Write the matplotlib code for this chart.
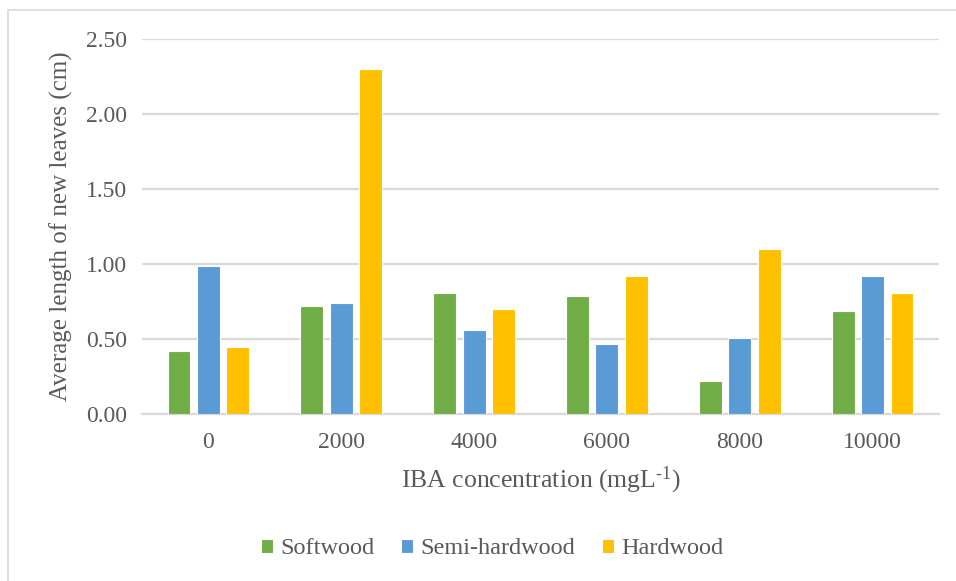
import matplotlib
matplotlib.use("Agg")
import matplotlib.pyplot as plt
import numpy as np
from matplotlib.patches import Rectangle

# Average length of new leaves (cm) by IBA concentration and cutting type
concentrations = ["0", "2000", "4000", "6000", "8000", "10000"]
series_names = ["Softwood", "Semi-hardwood", "Hardwood"]
softwood = [0.42, 0.72, 0.81, 0.79, 0.22, 0.69]
semi_hardwood = [0.99, 0.74, 0.56, 0.47, 0.51, 0.92]
hardwood = [0.45, 2.30, 0.70, 0.92, 1.10, 0.81]
y_ticks = [0.0, 0.5, 1.0, 1.5, 2.0, 2.5]

colors = ["#70AD47", "#5B9BD5", "#FFC000"]
text_color = "#595959"
grid_color = "#D9D9D9"

plt.rcParams["font.family"] = ["Liberation Serif", "DejaVu Serif"]
plt.rcParams["mathtext.fontset"] = "custom"
plt.rcParams["mathtext.rm"] = "Liberation Serif"
plt.rcParams["mathtext.it"] = "Liberation Serif:italic"

fig = plt.figure(figsize=(9.56, 5.81), dpi=100)
fig.patch.set_facecolor("white")

# light outer frame of the chart area
fig.patches.append(Rectangle((8 / 956, -0.01), 1.0, (581 - 10) / 581 + 0.01,
                             transform=fig.transFigure, fill=False,
                             edgecolor="#D9D9D9", linewidth=1.2))

W, H = 956, 581
left, right, top, bottom = 142, 939, 39, 414
ax = fig.add_axes([left / W, 1 - bottom / H, (right - left) / W, (bottom - top) / H])

x = np.arange(len(concentrations))
bar_w = 0.172
pitch = 0.222
for i, (vals, c, name) in enumerate(zip([softwood, semi_hardwood, hardwood], colors, series_names)):
    ax.bar(x + (i - 1) * pitch, vals, width=bar_w, color=c, edgecolor="white",
           linewidth=0.8, label=name, zorder=3)

ax.set_xlim(-0.5, len(concentrations) - 0.5)
ax.set_ylim(0, 2.5)
ax.set_yticks(y_ticks)
ax.set_yticklabels([f"{v:.2f}" for v in y_ticks])
ax.set_xticks(x)
ax.set_xticklabels(concentrations)
ax.tick_params(axis="both", length=0, labelsize=17, colors=text_color)
ax.tick_params(axis="x", pad=13)
ax.tick_params(axis="y", pad=11)

ax.yaxis.grid(True, color=grid_color, linewidth=1.6, zorder=0)
ax.set_axisbelow(True)
for s in ["top", "right", "left"]:
    ax.spines[s].set_visible(False)
ax.spines["bottom"].set_color(grid_color)
ax.spines["bottom"].set_linewidth(1.6)

ax.set_xlabel(r"IBA concentration (mgL$^{\text{-}1}$)", fontsize=18.5, color=text_color, labelpad=8)
ax.set_ylabel("Average length of new leaves (cm)", fontsize=18, color=text_color, labelpad=9)

leg = fig.legend(loc="center", bbox_to_anchor=(492 / W, 1 - 549 / H), ncol=3,
                 frameon=False, fontsize=17.5, handlelength=0.5, handleheight=0.5,
                 handletextpad=0.3, columnspacing=1.1)
for t in leg.get_texts():
    t.set_color(text_color)

fig.savefig("out.png", dpi=100, facecolor="white")
